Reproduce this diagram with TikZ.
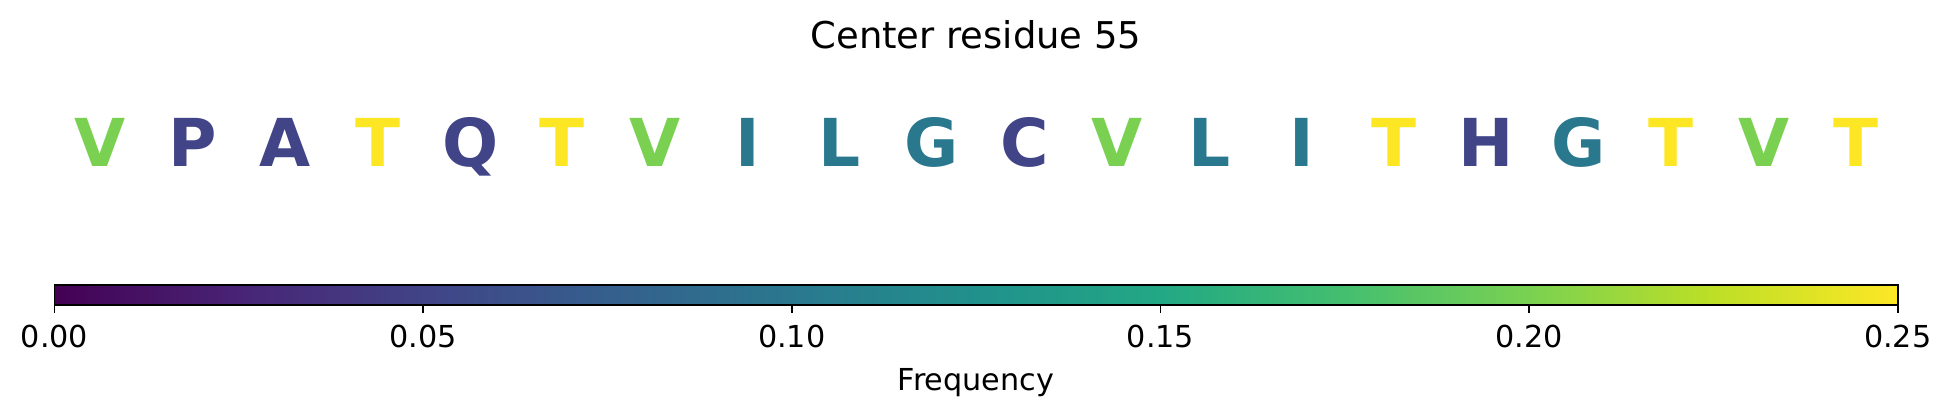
\documentclass[tikz,border=0pt]{standalone}
\usepackage{fontspec}
\setmainfont{DejaVu Sans}
\definecolor{vir0}{HTML}{440154}
\definecolor{vir1}{HTML}{482475}
\definecolor{vir2}{HTML}{414487}
\definecolor{vir3}{HTML}{355F8D}
\definecolor{vir4}{HTML}{2A788E}
\definecolor{vir5}{HTML}{21918C}
\definecolor{vir6}{HTML}{22A884}
\definecolor{vir7}{HTML}{44BF70}
\definecolor{vir8}{HTML}{7AD151}
\definecolor{vir9}{HTML}{BDDF26}
\definecolor{vir10}{HTML}{FDE725}
\pgfdeclarehorizontalshading{viridis}{100bp}{color(0bp)=(vir0); color(25bp)=(vir0);
  color(30bp)=(vir1); color(35bp)=(vir2); color(40bp)=(vir3); color(45bp)=(vir4);
  color(50bp)=(vir5); color(55bp)=(vir6); color(60bp)=(vir7); color(65bp)=(vir8);
  color(70bp)=(vir9); color(75bp)=(vir10); color(100bp)=(vir10)}
\begin{document}
\begin{tikzpicture}[
    res/.style={anchor=base,inner sep=0pt,font=\fontsize{18.8}{20}\selectfont\bfseries},
    ticklabel/.style={anchor=base,inner sep=0pt,font=\fontsize{8.6}{10}\selectfont}]
      \useasboundingbox (0,0) rectangle (19.52,4.16);
      \node[anchor=base,inner sep=0pt,font=\fontsize{10.5}{12}\selectfont] (title) at (9.76,3.67) {Center residue 55};
      \draw
        (1.005,2.49) node[res,text=vir8] (0){V}
        (1.929,2.49) node[res,text=vir2] (1){P}
        (2.853,2.49) node[res,text=vir2] (2){A}
        (3.777,2.49) node[res,text=vir10] (3){T}
        (4.701,2.49) node[res,text=vir2] (4){Q}
        (5.625,2.49) node[res,text=vir10] (5){T}
        (6.549,2.49) node[res,text=vir8] (6){V}
        (7.473,2.49) node[res,text=vir4] (7){I}
        (8.397,2.49) node[res,text=vir4] (8){L}
        (9.321,2.49) node[res,text=vir4] (9){G}
        (10.245,2.49) node[res,text=vir2] (10){C}
        (11.169,2.49) node[res,text=vir8] (11){V}
        (12.093,2.49) node[res,text=vir4] (12){L}
        (13.017,2.49) node[res,text=vir4] (13){I}
        (13.941,2.49) node[res,text=vir10] (14){T}
        (14.865,2.49) node[res,text=vir2] (15){H}
        (15.789,2.49) node[res,text=vir4] (16){G}
        (16.713,2.49) node[res,text=vir10] (17){T}
        (17.637,2.49) node[res,text=vir8] (18){V}
        (18.561,2.49) node[res,text=vir10] (19){T};
      \coordinate (cbl) at (0.545,1.113);
      \coordinate (cbr) at (18.977,1.313);
      \shade[shading=viridis] (cbl) rectangle (cbr);
      \draw[line width=0.5pt] (cbl) rectangle (cbr);
      \begin{scope}[line width=0.5pt]
        \draw (0.545,1.113) -- (0.545,1.03);
        \draw (4.2314,1.113) -- (4.2314,1.03);
        \draw (7.9178,1.113) -- (7.9178,1.03);
        \draw (11.6042,1.113) -- (11.6042,1.03);
        \draw (15.2906,1.113) -- (15.2906,1.03);
        \draw (18.977,1.113) -- (18.977,1.03);
      \end{scope}
      \node[ticklabel] (t0) at (0.545,0.68) {0.00};
      \node[ticklabel] (t1) at (4.2314,0.68) {0.05};
      \node[ticklabel] (t2) at (7.9178,0.68) {0.10};
      \node[ticklabel] (t3) at (11.6042,0.68) {0.15};
      \node[ticklabel] (t4) at (15.2906,0.68) {0.20};
      \node[ticklabel] (t5) at (18.977,0.68) {0.25};
      \node[ticklabel] (freq) at (9.76,0.253) {Frequency};
    \end{tikzpicture}
\end{document}
